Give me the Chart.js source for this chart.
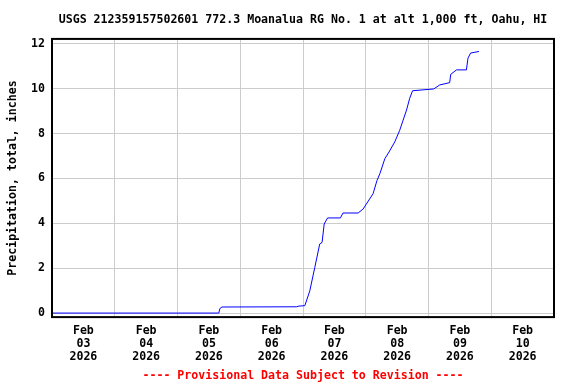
<!DOCTYPE html>
<html>
<head>
<meta charset="utf-8">
<script src="https://cdn.jsdelivr.net/npm/chart.js@4/dist/chart.umd.min.js"></script>
<style>
html,body{margin:0;padding:0;background:#fff;}
#wrap{width:576px;height:384px;position:relative;}
</style>
</head>
<body>
<div id="wrap"><canvas id="c" width="576" height="384"></canvas></div>
<script>
// Hours since Feb 03 2026 00:00 (local)
const hours = [0, 63.8, 64.2, 65.0, 93.6, 94.4, 96.7, 98.6, 100.5, 102.4, 103.3, 104.1, 105.4, 110.3, 111.3, 117.1, 119.0, 122.8, 124.3, 125.4, 127.3, 128.9, 131.1, 133.0, 134.3, 135.6, 136.8, 137.9, 146.0, 148.3, 152.1, 152.5, 154.7, 158.5, 159.1, 160.1, 163.3];
const precipInches = [0, 0, 0.20, 0.27, 0.28, 0.31, 0.33, 0.99, 2.03, 3.08, 3.15, 3.97, 4.24, 4.24, 4.46, 4.46, 4.64, 5.32, 5.91, 6.21, 6.88, 7.18, 7.63, 8.15, 8.60, 9.05, 9.57, 9.91, 9.99, 10.17, 10.27, 10.64, 10.84, 10.84, 11.36, 11.59, 11.66];
const dayLabels = ['03', '04', '05', '06', '07', '08', '09', '10'];
const monthLabel = 'Feb';
const yearLabel = '2026';
const yTickValues = [0, 2, 4, 6, 8, 10, 12];
const titleText = 'USGS 212359157502601 772.3 Moanalua RG No. 1 at alt 1,000 ft, Oahu, HI';
const footerText = '---- Provisional Data Subject to Revision ----';
const yAxisTitle = 'Precipitation, total, inches';

const FONT = "'DejaVu Sans Mono', 'Liberation Mono', monospace";

const points = hours.map((h, i) => ({x: h, y: precipInches[i]}));

const framePlugin = {
  id: 'frame',
  afterDraw(chart) {
    const a = chart.chartArea, ctx = chart.ctx;
    ctx.save();
    ctx.strokeStyle = '#000';
    ctx.lineWidth = 2;
    ctx.strokeRect(a.left, a.top, a.right - a.left, a.bottom - a.top);
    ctx.restore();
  }
};

new Chart(document.getElementById('c'), {
  type: 'line',
  data: {
    datasets: [{
      data: points,
      borderColor: '#0000ff',
      borderWidth: 1,
      pointRadius: 0,
      fill: false,
      tension: 0
    }]
  },
  options: {
    responsive: false,
    animation: false,
    layout: {padding: {left: 0, right: 22, top: 0, bottom: 0}},
    plugins: {
      legend: {display: false},
      tooltip: {enabled: false},
      title: {
        display: true,
        text: titleText,
        fullSize: false,
        color: '#000',
        font: {family: FONT, size: 11.6, weight: 'bold', lineHeight: 1.2},
        padding: {top: 13, bottom: 12}
      },
      subtitle: {
        display: true,
        position: 'bottom',
        text: footerText,
        fullSize: false,
        color: '#ff0000',
        font: {family: FONT, size: 11.6, weight: 'bold', lineHeight: 1.2},
        padding: {top: 4, bottom: 1}
      }
    },
    scales: {
      x: {
        type: 'linear',
        min: 0,
        max: 192,
        afterBuildTicks(scale) {
          const t = [];
          for (let h = 0; h <= 192; h += 12) t.push({value: h});
          scale.ticks = t;
        },
        afterFit(scale) { scale.height -= 5; },
        ticks: {
          autoSkip: false,
          maxRotation: 0,
          minRotation: 0,
          padding: 7,
          color: '#000',
          font: {family: FONT, size: 11.6, weight: 'bold', lineHeight: 1.12},
          callback(v) {
            if (v % 24 !== 12) return '';
            const d = Math.floor(v / 24);
            return [monthLabel, dayLabels[d], yearLabel];
          }
        },
        grid: {
          drawTicks: false,
          color(ctx) {
            const v = ctx.tick ? ctx.tick.value : 0;
            return (v % 24 === 0) ? '#cccccc' : 'rgba(0,0,0,0)';
          },
          lineWidth: 1
        },
        border: {display: false}
      },
      y: {
        type: 'linear',
        min: -0.18,
        max: 12.22,
        afterBuildTicks(scale) {
          scale.ticks = yTickValues.map(v => ({value: v}));
        },
        afterFit(scale) { scale.width = 52; },
        ticks: {
          padding: 7,
          color: '#000',
          font: {family: FONT, size: 11.6, weight: 'bold'}
        },
        grid: {drawTicks: false, color: '#cccccc', lineWidth: 1},
        border: {display: false},
        title: {
          display: true,
          text: yAxisTitle,
          color: '#000',
          font: {family: FONT, size: 11.6, weight: 'bold'},
          padding: {top: 6, bottom: 0}
        }
      }
    }
  },
  plugins: [framePlugin]
});
</script>
</body>
</html>
